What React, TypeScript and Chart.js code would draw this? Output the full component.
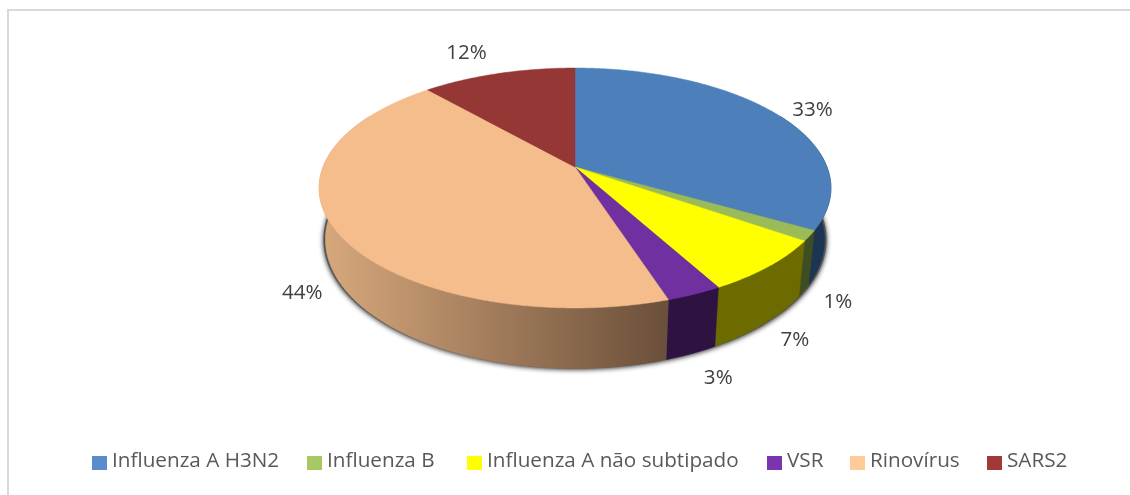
import React, { useEffect, useRef } from "react";
import { Chart, registerables } from "chart.js";

Chart.register(...registerables);

const categories = ["Influenza A H3N2", "Influenza B", "Influenza A não subtipado", "VSR", "Rinovírus", "SARS2"];
const shares = [33.3, 1.4, 7.3, 3, 43.5, 11.5];

const legendColors = ["#5a8bcd", "#a6c963", "#ffff00", "#7a34ad", "#ffcc99", "#a03a38"];
const topColors = ["#4d80bb", "#9bbb59", "#ffff00", "#7030a0", "#f6bd8c", "#953735"];
const wallColors = ["#1c3553", "#3f4d22", "#6b6b00", "#2e1342", "peach", "#642423"];

// Label nudges from each slice's rim anchor and legend item lefts (layout, not data)
const labelNudges = [[37, -3], [34, 11], [31, 16], [27, 24], [-39, 8], [-32, -20]];
const legendLefts = [92, 307, 467, 767, 850, 987];

const FONT = "'Open Sans', sans-serif";

// Projective view of the pie disc
const CX = 575, TOP_Y = 167, BASE_Y = 217;
const RX = 252, RY_TOP = 116.3, RY_BASE = 125, KP = 0.175, BASE_SCALE = 0.975;

const topPt = (a: number): [number, number] => {
  const u = Math.cos(a), v = Math.sin(a), w = 1 - KP * v;
  return [CX + (RX * u) / w, TOP_Y + (RY_TOP * v) / w];
};
const basePt = (a: number): [number, number] => {
  const u = Math.cos(a), v = Math.sin(a), w = 1 - KP * v;
  return [CX + (BASE_SCALE * RX * u) / w, BASE_Y + (RY_BASE * v) / w];
};
const deg = Math.PI / 180;
const WALL_MIN = -28 * deg, WALL_MAX = 208 * deg, STEP = 0.5 * deg;

const pie3d = {
  id: "pie3d",
  beforeDatasetDraw(chart: any) {
    const { ctx } = chart;
    const arcs = chart.getDatasetMeta(0).data;

    // drop shadow under the wall: only the base outline casts it
    ctx.save();
    ctx.shadowColor = "rgba(0,0,0,0.85)";
    ctx.shadowBlur = 5;
    ctx.shadowOffsetY = 1;
    ctx.fillStyle = "#555";
    ctx.beginPath();
    for (let a = 0; a < Math.PI * 2; a += STEP) {
      const [x, y] = basePt(a);
      ctx.lineTo(CX + (x - CX) * 1.008, y);
    }
    ctx.closePath();
    ctx.fill();
    ctx.restore();

    // walls
    const peach = ctx.createLinearGradient(323, 0, 668, 0);
    peach.addColorStop(0, "#d8a87c");
    peach.addColorStop(1, "#6a4f3a");
    arcs.forEach((arc: any, i: number) => {
      const s = Math.max(arc.startAngle, WALL_MIN);
      const e = Math.min(arc.endAngle, WALL_MAX);
      if (e <= s) return;
      const fill = wallColors[i] === "peach" ? peach : wallColors[i];
      ctx.beginPath();
      for (let a = s; a < e; a += STEP) ctx.lineTo(...topPt(a));
      ctx.lineTo(...topPt(e));
      ctx.lineTo(...basePt(e));
      for (let a = e; a > s; a -= STEP) ctx.lineTo(...basePt(a));
      ctx.lineTo(...basePt(s));
      ctx.closePath();
      ctx.fillStyle = fill;
      ctx.strokeStyle = fill;
      ctx.lineWidth = 0.5;
      ctx.fill();
      ctx.stroke();
    });

    // top face
    arcs.forEach((arc: any, i: number) => {
      ctx.beginPath();
      ctx.moveTo(CX, TOP_Y);
      for (let a = arc.startAngle; a < arc.endAngle; a += STEP) ctx.lineTo(...topPt(a));
      ctx.lineTo(...topPt(arc.endAngle));
      ctx.closePath();
      ctx.fillStyle = topColors[i];
      ctx.strokeStyle = topColors[i];
      ctx.lineWidth = 0.5;
      ctx.fill();
      ctx.stroke();
    });

    // value labels
    ctx.font = `20.6px ${FONT}`;
    ctx.fillStyle = "#404040";
    ctx.textAlign = "center";
    ctx.textBaseline = "middle";
    const values = chart.data.datasets[0].data as number[];
    const total = values.reduce((p, c) => p + c, 0);
    arcs.forEach((arc: any, i: number) => {
      const mid = (arc.startAngle + arc.endAngle) / 2;
      const front = Math.sin(mid) > 0;
      const [x, y] = front ? basePt(mid) : topPt(mid);
      ctx.fillText(`${Math.round((values[i] / total) * 100)}%`, x + labelNudges[i][0], y + labelNudges[i][1]);
    });

    // legend
    ctx.font = `20.7px ${FONT}`;
    ctx.textAlign = "left";
    chart.data.labels.forEach((label: string, i: number) => {
      const left = legendLefts[i];
      ctx.fillStyle = chart.data.datasets[0].backgroundColor[i];
      ctx.fillRect(left, 456, 15, 14);
      ctx.fillStyle = "#595959";
      ctx.fillText(label, left + 20, 461);
    });
    return false;
  },
};

export default function App() {
  const ref = useRef<HTMLCanvasElement>(null);
  useEffect(() => {
    const chart = new Chart(ref.current!, {
      type: "pie",
      data: {
        labels: categories,
        datasets: [{ data: shares, backgroundColor: legendColors, borderWidth: 0 }],
      },
      options: {
        responsive: false,
        animation: false,
        plugins: { legend: { display: false }, tooltip: { enabled: false } },
      },
      plugins: [pie3d],
    });
    return () => chart.destroy();
  }, []);
  return (
    <div style={{ position: "fixed", left: 0, top: 0, width: 1130, height: 495, background: "#fff", overflow: "hidden" }}>
      <div style={{ position: "absolute", left: 7, top: 9, right: 0, bottom: 0, borderLeft: "2px solid #d9d9d9", borderTop: "2px solid #d9d9d9" }} />
      <canvas ref={ref} width={1130} height={495} style={{ position: "absolute", left: 0, top: 0, width: 1130, height: 495 }} />
    </div>
  );
}
